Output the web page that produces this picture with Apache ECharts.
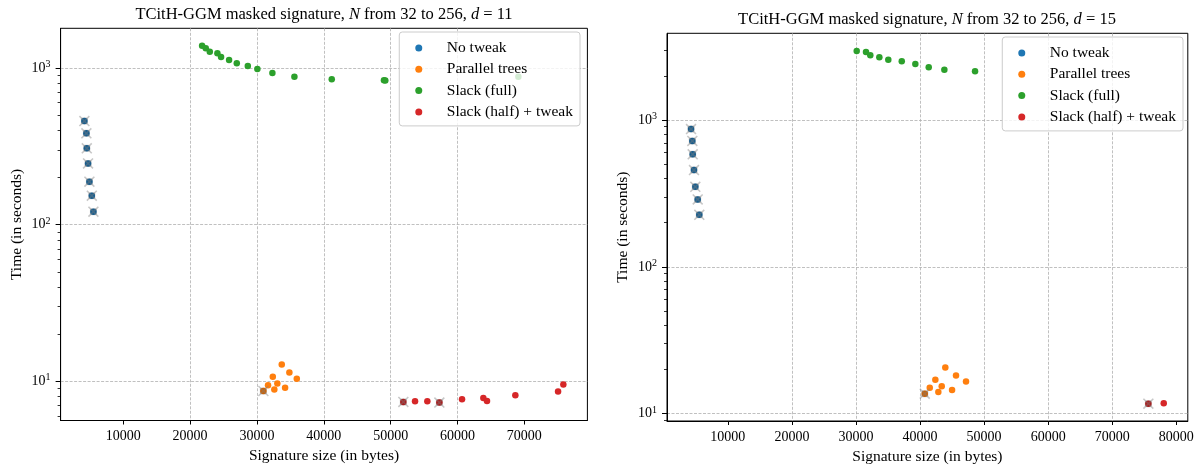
<!DOCTYPE html>
<html>
<head>
<meta charset="utf-8">
<script src="https://cdn.jsdelivr.net/npm/echarts@6/dist/echarts.min.js"></script>
<style>
html, body { margin: 0; padding: 0; background: #fff; }
#chart { width: 1201px; height: 470px; }
</style>
</head>
<body>
<div id="chart"></div>
<script>
// legend names / colours (tab10)
const seriesNames = ['No tweak', 'Parallel trees', 'Slack (full)', 'Slack (half) + tweak']
const seriesColors = ['#1f77b4', '#ff7f0e', '#2ca02c', '#d62728']

// ticks
const xTicks = [10000, 20000, 30000, 40000, 50000, 60000, 70000]
const xTicksRight = [10000, 20000, 30000, 40000, 50000, 60000, 70000, 80000]
const yDecades = [1, 10, 100, 1000]
const yMinorMult = [2, 3, 4, 5, 6, 7, 8, 9]

// d = 11 (left panel): [signature size, time]
const leftNoTweak = [[4180, 458], [4480, 383], [4540, 307], [4730, 246], [4930, 188], [5290, 153], [5530, 121]]
const leftParallel = [[33710, 12.8], [34850, 11.4], [35960, 10.4], [32370, 10.7], [33050, 9.67], [31660, 9.43], [34210, 9.11], [32600, 8.85], [30960, 8.67]]
const leftSlackFull = [[21790, 1388], [22340, 1336], [22940, 1271], [24080, 1241], [24630, 1176], [25830, 1125], [26980, 1071], [28630, 1030], [30060, 985], [32310, 929], [35600, 879], [41190, 847], [49000, 836], [49200, 832], [69110, 879]]
const leftSlackHalf = [[51900, 7.38], [53650, 7.45], [55490, 7.45], [57290, 7.31], [60680, 7.67], [63870, 7.82], [64420, 7.48], [68660, 8.14], [75050, 8.6], [75840, 9.53]]
const leftBest = [[4180, 458], [4480, 383], [4540, 307], [4730, 246], [4930, 188], [5290, 153], [5530, 121], [30960, 8.67], [51900, 7.38], [57290, 7.31]]

// d = 15 (right panel)
const rightNoTweak = [[4260, 868], [4460, 720], [4520, 584], [4720, 456], [4930, 351], [5300, 288], [5550, 226]]
const rightParallel = [[43950, 20.6], [45620, 18.2], [42390, 17.0], [47180, 16.6], [41520, 15.0], [43390, 15.4], [42860, 14.05], [45000, 14.5], [40740, 13.7]]
const rightSlackFull = [[30120, 2951], [31570, 2905], [32240, 2758], [33650, 2673], [35050, 2575], [37150, 2510], [39270, 2406], [41360, 2285], [43800, 2200], [48590, 2146]]
const rightSlackHalf = [[75640, 11.7], [78040, 11.77]]
const rightBest = [[4260, 868], [4460, 720], [4520, 584], [4720, 456], [4930, 351], [5300, 288], [5550, 226], [40740, 13.7], [75640, 11.7]]

const font = 'Liberation Serif'
const gridLine = { show: true, showMinLine: false, showMaxLine: false, lineStyle: { color: '#b0b0b0', type: [3, 1.5], width: 0.8 } }

function minorLog(min, max) {
  const out = []
  yDecades.forEach(d => yMinorMult.forEach(m => {
    const v = d * m
    if (v > min && v < max) out.push(Math.log10(v))
  }))
  return out
}

function xAxisCfg(grid, range, ticks) {
  return {
    type: 'value',
    gridIndex: grid,
    min: range[0],
    max: range[1],
    name: 'Signature size (in bytes)',
    nameLocation: 'middle',
    nameGap: 27,
    nameTextStyle: { fontFamily: font, fontSize: 15.5, color: '#000' },
    axisLine: { show: true, lineStyle: { color: '#000', width: 1 } },
    axisTick: { show: true, length: 4, customValues: ticks, lineStyle: { color: '#000' } },
    axisLabel: { customValues: ticks, margin: 9, fontFamily: font, fontSize: 14, color: '#000', formatter: v => String(v) },
    splitLine: gridLine
  }
}

function yAxisCfgs(grid, range) {
  const lo = Math.log10(range[0])
  const hi = Math.log10(range[1])
  return [
    {
      type: 'log',
      logBase: 10,
      gridIndex: grid,
      position: 'left',
      min: range[0],
      max: range[1],
      name: 'Time (in seconds)',
      nameLocation: 'middle',
      nameRotate: 90,
      nameGap: 36,
      nameTextStyle: { fontFamily: font, fontSize: 15.5, color: '#000' },
      axisLine: { show: true, lineStyle: { color: '#000', width: 1 } },
      axisTick: { show: false },
      axisLabel: {
        showMinLabel: false,
        showMaxLabel: false,
        margin: 10,
        fontFamily: font,
        fontSize: 14,
        color: '#000',
        formatter: v => '10{sup|' + Math.round(Math.log10(v)) + '}',
        rich: { sup: { fontFamily: font, fontSize: 10, color: '#000', padding: [0, 0, 7, 0] } }
      },
      splitLine: gridLine
    },
    // minor ticks
    {
      type: 'value', gridIndex: grid, position: 'left', min: lo, max: hi,
      axisLine: { show: false }, axisLabel: { show: false }, splitLine: { show: false },
      axisTick: { show: true, length: 3, customValues: minorLog(range[0], range[1]), lineStyle: { color: '#000', width: 0.8 } }
    },
    // major ticks
    {
      type: 'value', gridIndex: grid, position: 'left', min: lo, max: hi,
      axisLine: { show: false }, axisLabel: { show: false }, splitLine: { show: false },
      axisTick: { show: true, length: 5, customValues: yDecades.map(v => Math.log10(v)).filter(v => v > lo && v < hi), lineStyle: { color: '#000' } }
    }
  ]
}

function panelSeries(xi, yi, groups, best) {
  const out = groups.map((data, i) => ({
    name: seriesNames[i],
    type: 'scatter',
    xAxisIndex: xi,
    yAxisIndex: yi,
    symbolSize: 6.5,
    itemStyle: { color: seriesColors[i], opacity: 1 },
    data: data
  }))
  // pareto points: darkened centre + grey cross
  out.push({
    name: 'best-fill',
    type: 'scatter',
    xAxisIndex: xi,
    yAxisIndex: yi,
    symbol: 'roundRect',
    symbolSize: 7,
    itemStyle: { color: 'rgba(0,0,0,0.27)' },
    data: best
  })
  out.push({
    name: 'best-cross',
    type: 'scatter',
    xAxisIndex: xi,
    yAxisIndex: yi,
    symbol: 'path://M0,1 L1,0 L5,4 L9,0 L10,1 L6,5 L10,9 L9,10 L5,6 L1,10 L0,9 L4,5 Z',
    symbolSize: 11,
    itemStyle: { color: 'rgba(128,128,128,0.55)' },
    data: best
  })
  return out
}

function legendCfg(right, top) {
  return {
    data: seriesNames,
    orient: 'vertical',
    right: right,
    top: top,
    icon: 'circle',
    itemWidth: 20,
    itemHeight: 7,
    itemGap: 5.3,
    padding: [8, 7, 6, 16],
    backgroundColor: 'rgba(255,255,255,0.8)',
    borderColor: '#cccccc',
    borderWidth: 1,
    borderRadius: 3,
    textStyle: { fontFamily: font, fontSize: 15.5, color: '#000', lineHeight: 15, padding: [0, 0, 0, 13] }
  }
}

function titleCfg(center, top, d) {
  return {
    text: 'TCitH-GGM masked signature, {i|N} from 32 to 256, {i|d} = ' + d,
    left: center,
    top: top,
    textAlign: 'center',
    padding: 0,
    textStyle: {
      fontFamily: font, fontSize: 16.5, fontWeight: 'normal', color: '#000',
      rich: { i: { fontFamily: font, fontSize: 16.5, fontStyle: 'italic', color: '#000' } }
    }
  }
}

const chart = echarts.init(document.getElementById('chart'))
chart.setOption({
  animation: false,
  backgroundColor: '#fff',
  title: [titleCfg(324, 6, 11), titleCfg(927, 11, 15)],
  legend: [legendCfg(621, 32), legendCfg(18, 37)],
  grid: [
    { left: 60.6, top: 28.3, width: 526.8, height: 392.2, show: true, borderColor: '#000', borderWidth: 1 },
    { left: 667, top: 33.3, width: 520.8, height: 387.7, show: true, borderColor: '#000', borderWidth: 1 }
  ],
  xAxis: [
    xAxisCfg(0, [621, 79439], xTicks),
    xAxisCfg(1, [509, 81795], xTicksRight)
  ],
  yAxis: [].concat(yAxisCfgs(0, [5.62, 1792]), yAxisCfgs(1, [8.92, 3894])),
  series: [].concat(
    panelSeries(0, 0, [leftNoTweak, leftParallel, leftSlackFull, leftSlackHalf], leftBest),
    panelSeries(1, 3, [rightNoTweak, rightParallel, rightSlackFull, rightSlackHalf], rightBest)
  )
})
</script>
</body>
</html>
